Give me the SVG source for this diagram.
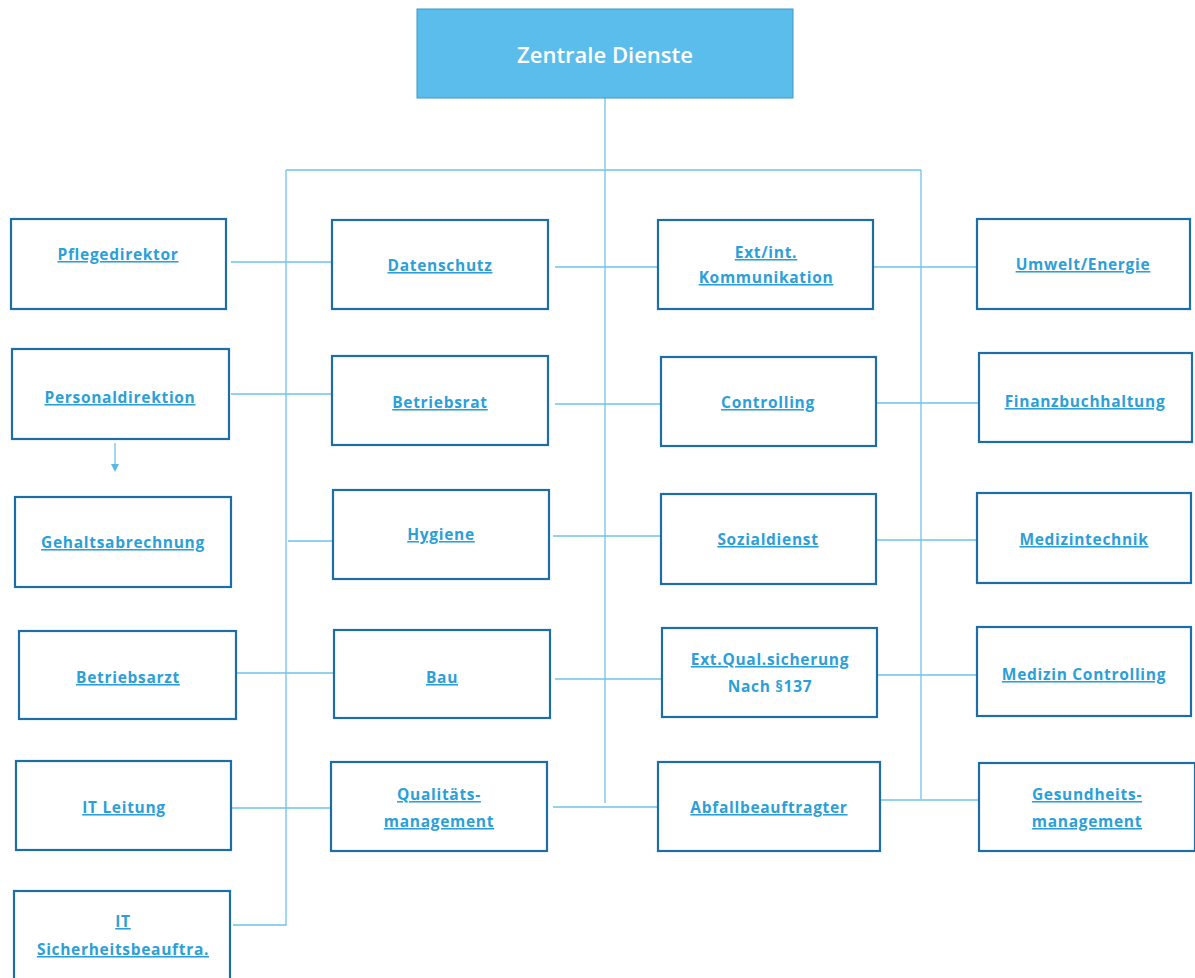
<svg xmlns="http://www.w3.org/2000/svg" width="1195" height="978" viewBox="0 0 1195 978">
<defs>
<style>
.box{fill:#ffffff;stroke:#1d6ea6;stroke-width:2.2}
.top{fill:#5bbdec;stroke:#3f98c9;stroke-width:1}
.t{font-family:"Open Sans","Liberation Sans",sans-serif;font-weight:700;font-size:15.5px;fill:#2c9fd8;text-anchor:middle;text-decoration:underline;letter-spacing:0.7px}
.tn{text-decoration:none}
.title{font-family:"Open Sans","Liberation Sans",sans-serif;font-weight:600;font-size:22px;fill:#ffffff;text-anchor:middle}
.c{fill:none;stroke:#6cc3e8;stroke-width:1.3}
</style>
<marker id="arr" markerWidth="8" markerHeight="8" refX="4" refY="4" orient="auto" markerUnits="userSpaceOnUse">
<path d="M0,0 L8,4 L0,8 Z" fill="#5bb8e6"/>
</marker>
</defs>
<rect width="1195" height="978" fill="#ffffff"/>

<g id="connectors">
<path class="c" d="M605,98 V803"/>
<path class="c" d="M286,170 H921"/>
<path class="c" d="M286,170 V925 H233"/>
<path class="c" d="M921,170 V799"/>
<path class="c" d="M231,262 H332"/>
<path class="c" d="M555,267 H658"/>
<path class="c" d="M873,267 H977"/>
<path class="c" d="M231,394 H332"/>
<path class="c" d="M555,404 H661"/>
<path class="c" d="M876,403 H979"/>
<path class="c" d="M288,541 H333"/>
<path class="c" d="M553,536 H661"/>
<path class="c" d="M876,540 H977"/>
<path class="c" d="M236,673 H334"/>
<path class="c" d="M555,679 H662"/>
<path class="c" d="M877,675 H977"/>
<path class="c" d="M231,808 H331"/>
<path class="c" d="M553,807 H658"/>
<path class="c" d="M880,800 H979"/>
<path class="c" d="M115,443 V468" stroke="#5bb8e6" marker-end="url(#arr)"/>
</g>

<g id="zentrale-dienste">
<rect class="top" x="417" y="9" width="376" height="89"/>
<text class="title" x="605" y="63">Zentrale Dienste</text>
</g>

<g id="pflegedirektor"><rect class="box" x="11" y="219" width="215" height="90"/><text class="t" x="118" y="260">Pflegedirektor</text></g>
<g id="personaldirektion"><rect class="box" x="12" y="349" width="217" height="90"/><text class="t" x="120" y="403">Personaldirektion</text></g>
<g id="gehaltsabrechnung"><rect class="box" x="15" y="497" width="216" height="90"/><text class="t" x="123" y="548">Gehaltsabrechnung</text></g>
<g id="betriebsarzt"><rect class="box" x="19" y="631" width="217" height="88"/><text class="t" x="128" y="683">Betriebsarzt</text></g>
<g id="it-leitung"><rect class="box" x="16" y="761" width="215" height="89"/><text class="t" x="124" y="813">IT Leitung</text></g>
<g id="it-sicherheit"><rect class="box" x="14" y="891" width="216" height="100"/><text class="t" x="123" y="927">IT</text><text class="t" x="123" y="955">Sicherheitsbeauftra.</text></g>

<g id="datenschutz"><rect class="box" x="332" y="220" width="216" height="89"/><text class="t" x="440" y="271">Datenschutz</text></g>
<g id="betriebsrat"><rect class="box" x="332" y="356" width="216" height="89"/><text class="t" x="440" y="408">Betriebsrat</text></g>
<g id="hygiene"><rect class="box" x="333" y="490" width="216" height="89"/><text class="t" x="441" y="540">Hygiene</text></g>
<g id="bau"><rect class="box" x="334" y="630" width="216" height="88"/><text class="t" x="442" y="683">Bau</text></g>
<g id="qualitaetsmanagement"><rect class="box" x="331" y="762" width="216" height="89"/><text class="t" x="439" y="800">Qualitäts-</text><text class="t" x="439" y="827">management</text></g>

<g id="kommunikation"><rect class="box" x="658" y="220" width="215" height="89"/><text class="t" x="766" y="258">Ext/int.</text><text class="t" x="766" y="283">Kommunikation</text></g>
<g id="controlling"><rect class="box" x="661" y="357" width="215" height="89"/><text class="t" x="768" y="408">Controlling</text></g>
<g id="sozialdienst"><rect class="box" x="661" y="494" width="215" height="90"/><text class="t" x="768" y="545">Sozialdienst</text></g>
<g id="qualitaetssicherung"><rect class="box" x="662" y="628" width="215" height="89"/><text class="t" x="770" y="665">Ext.Qual.sicherung</text><text class="t tn" x="770" y="692">Nach §137</text></g>
<g id="abfallbeauftragter"><rect class="box" x="658" y="762" width="222" height="89"/><text class="t" x="769" y="813">Abfallbeauftragter</text></g>

<g id="umwelt-energie"><rect class="box" x="977" y="219" width="213" height="90"/><text class="t" x="1083" y="270">Umwelt/Energie</text></g>
<g id="finanzbuchhaltung"><rect class="box" x="979" y="353" width="213" height="89"/><text class="t" x="1085" y="407">Finanzbuchhaltung</text></g>
<g id="medizintechnik"><rect class="box" x="977" y="493" width="214" height="90"/><text class="t" x="1084" y="545">Medizintechnik</text></g>
<g id="medizin-controlling"><rect class="box" x="977" y="627" width="214" height="89"/><text class="t" x="1084" y="680">Medizin Controlling</text></g>
<g id="gesundheitsmanagement"><rect class="box" x="979" y="763" width="216" height="88"/><text class="t" x="1087" y="800">Gesundheits-</text><text class="t" x="1087" y="827">management</text></g>
</svg>
